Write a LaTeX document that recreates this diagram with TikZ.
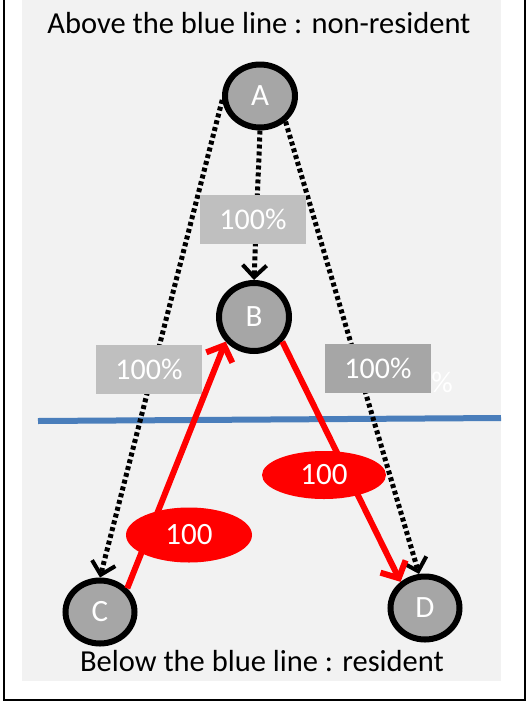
\documentclass[tikz,border=0pt]{standalone}
\usepackage{fontspec}
\setmainfont{Carlito}
\usetikzlibrary{arrows.meta,shapes.geometric}
\definecolor{bgray}{HTML}{F2F2F2}
\definecolor{nodegray}{HTML}{A6A6A6}
\definecolor{boxlight}{HTML}{BFBFBF}
\definecolor{boxdark}{HTML}{A6A6A6}
\definecolor{blueline}{HTML}{4A7EBB}
\begin{document}
\begin{tikzpicture}[x=1pt,y=-1pt,
  circ/.style={ellipse, draw=black, line width=6pt, fill=nodegray, text=white,
    font=\fontsize{31}{31}\selectfont, inner sep=0pt},
  pctbox/.style={rectangle, text=white, font=\fontsize{30}{30}\selectfont,
    minimum width=106pt, minimum height=49pt, inner sep=0pt},
  redlabel/.style={ellipse, fill=red, text=white, font=\fontsize{31}{31}\selectfont, inner sep=0pt},
  dotarrow/.style={black, line width=5pt, dash pattern=on 4pt off 3pt,
    -{Straight Barb[length=12pt,width=24pt,line width=4pt]}},
  redarrow/.style={red, line width=6pt,
    -{Straight Barb[length=13pt,width=28pt,line width=6pt]}},
  caption/.style={text=black, font=\fontsize{30.5}{30.5}\selectfont, inner sep=0pt}]
\useasboundingbox (0,0) rectangle (528,702);
% background
\fill[bgray] (22,0) rectangle (501,681);
\draw[black, line width=2pt] (4,0) -- (4,700) -- (525,700) -- (525,0);
% captions
\node[caption] (top) at (259,23) {Above the blue line : non-resident};
\node[caption] (bottom) at (262,661) {Below the blue line : resident};
% blue line
\coordinate (bl1) at (38,421);
\coordinate (bl2) at (501,418);
\draw[blueline, line width=6pt] (bl1) -- (bl2);
% nodes
\node[circ, minimum width=70pt, minimum height=63pt] (A) at (260,96) {A};
\node[circ, minimum width=70pt, minimum height=68pt] (B) at (254,317) {B};
\node[circ, minimum width=69pt, minimum height=63pt] (C) at (100,612) {C};
\node[circ, minimum width=69pt, minimum height=63pt] (D) at (425,608) {D};
% stray percent
\node[text=white, font=\fontsize{30}{30}\selectfont, inner sep=0pt] (pct) at (442,382) {\%};
% dotted arrows
\draw[dotarrow] (A.south) -- (B.north);
\draw[dotarrow] (A.186) -- (C.north);
\draw[dotarrow] (A.-45) -- (D.100);
% percent boxes
\node[pctbox, fill=boxlight] (pAB) at (253,219) {100\%};
\node[pctbox, fill=boxlight] (pAC) at (149,369) {100\%};
\node[pctbox, fill=boxdark] (pAD) at (378,368) {100\%};
% red arrows
\draw[redarrow] (C.41) -- (B.221);
\draw[redarrow] (B.-41) -- (D.133);
% red labels
\node[redlabel, minimum width=126pt, minimum height=55pt] (rCB) at (189,535) {100};
\node[redlabel, minimum width=124pt, minimum height=48pt] (rBD) at (324,475) {100};
\end{tikzpicture}
\end{document}
